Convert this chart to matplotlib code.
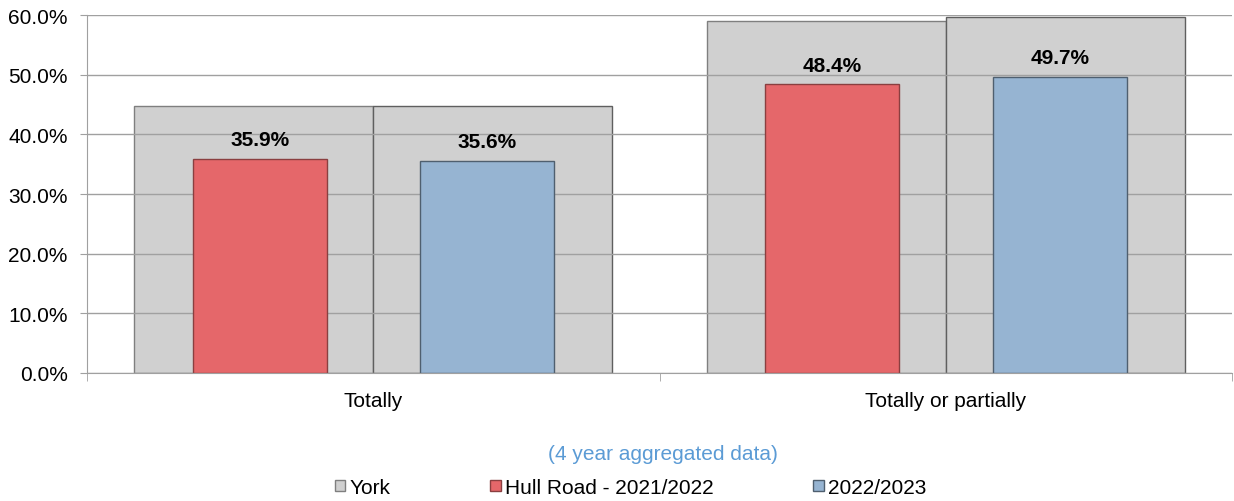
import matplotlib.pyplot as plt
from matplotlib.patches import Patch
from matplotlib.ticker import FuncFormatter, FixedLocator

plt.rcParams['font.family'] = ['Liberation Sans', 'DejaVu Sans']

categories = ['Totally', 'Totally or partially']
york_2122 = [44.8, 59.0]
york_2223 = [44.8, 59.7]
hull_2122 = [35.9, 48.4]
hull_2223 = [35.6, 49.7]

grey = '#D0D0D0'
red = '#E5676A'
blue = '#96B4D2'
fs = 15

fig = plt.figure(figsize=(12.34, 5.02), dpi=100)
ax = fig.add_axes([0.0705, 0.255, 0.928, 0.713])

x = range(len(categories))
yw = 0.4175
cw = 0.234
for i in x:
    # York comparison bars behind
    ax.bar(i - yw / 2, york_2122[i], width=yw, color=grey, edgecolor='#7F7F7F',
           linewidth=1, zorder=1)
    ax.bar(i + yw / 2, york_2223[i], width=yw, color=grey, edgecolor='#5F5F5F',
           linewidth=1, zorder=1)
    # ward bars in front
    ax.bar(i - 0.198, hull_2122[i], width=cw, color=red, edgecolor='#8A3F40',
           linewidth=1, zorder=3)
    ax.bar(i + 0.199, hull_2223[i], width=cw, color=blue, edgecolor='#4F5F6F',
           linewidth=1, zorder=3)
    ax.text(i - 0.198, hull_2122[i] + 1.6, f'{hull_2122[i]:.1f}%', ha='center',
            va='bottom', fontsize=fs, fontweight='bold', zorder=4)
    ax.text(i + 0.199, hull_2223[i] + 1.6, f'{hull_2223[i]:.1f}%', ha='center',
            va='bottom', fontsize=fs, fontweight='bold', zorder=4)

ax.set_xlim(-0.5, 1.5)
ax.set_ylim(0, 60)
ax.set_yticks(range(0, 61, 10))
ax.yaxis.set_major_formatter(FuncFormatter(lambda v, p: f'{v:.1f}%'))
ax.grid(axis='y', color='#A0A0A0', linewidth=1, zorder=2)
ax.set_axisbelow(False)
for g in ax.get_ygridlines():
    g.set_zorder(2)

ax.set_xticks(list(x))
ax.set_xticklabels(categories)
ax.xaxis.set_minor_locator(FixedLocator([-0.5, 0.5, 1.5]))
ax.tick_params(axis='x', which='major', length=0, labelsize=fs, pad=13)
ax.tick_params(axis='x', which='minor', length=6, color='#A0A0A0')
ax.tick_params(axis='y', length=5, color='#A0A0A0', labelsize=fs, pad=9)

for s in ['top', 'right']:
    ax.spines[s].set_visible(False)
ax.spines['left'].set_color('#A0A0A0')
ax.spines['bottom'].set_color('#A0A0A0')
ax.spines['left'].set_zorder(5)
ax.spines['bottom'].set_zorder(5)

fig.text(0.537, 0.095, '(4 year aggregated data)', ha='center', va='center',
         fontsize=fs, color='#5B9BD5')

handles = [Patch(facecolor=grey, edgecolor='#7F7F7F'),
           Patch(facecolor=red, edgecolor='#8A3F40'),
           Patch(facecolor=blue, edgecolor='#4F5F6F')]
fig.legend(handles, ['York', 'Hull Road - 2021/2022', '2022/2023'],
           loc='center', bbox_to_anchor=(0.511, 0.027), ncol=3, frameon=False,
           fontsize=fs, handlelength=0.5, handleheight=0.5, handletextpad=0.2,
           columnspacing=4.8, borderpad=0)

fig.savefig('out.png', dpi=100)
